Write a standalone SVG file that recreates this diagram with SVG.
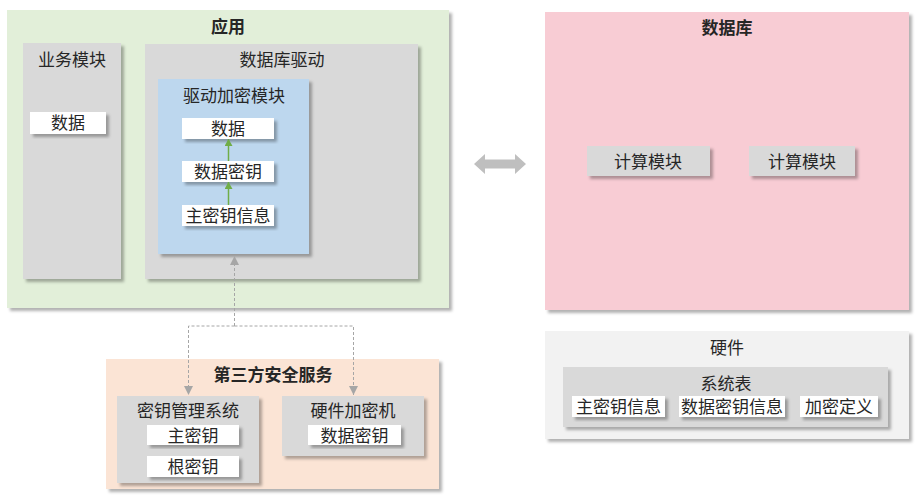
<svg xmlns="http://www.w3.org/2000/svg" width="924" height="504" viewBox="0 0 924 504">
<defs>
<filter id="sh" x="-10%" y="-10%" width="125%" height="130%">
<feDropShadow dx="3" dy="3" stdDeviation="1.6" flood-color="#000" flood-opacity="0.3"/>
</filter>
<marker id="ga" markerWidth="8" markerHeight="8" refX="7" refY="4" orient="auto" markerUnits="userSpaceOnUse">
<path d="M0,0 L7,4 L0,8 Z" fill="#70ad47"/>
</marker>
<marker id="da" markerWidth="10" markerHeight="10" refX="9" refY="5" orient="auto" markerUnits="userSpaceOnUse">
<path d="M0,0.5 L9,5 L0,9.5 Z" fill="#a6a6a6"/>
</marker>
</defs>
<style>
text{font-family:"Noto Sans CJK SC","Noto Sans",sans-serif;font-size:17px;fill:#262626;text-anchor:middle}
.b{font-weight:bold}
.s{filter:url(#sh)}
.g{fill:#d9d9d9}
.w{fill:#ffffff}
</style>
<g id="app">
<rect class="s" x="7" y="10" width="442" height="298" fill="#e2efd9"/>
<text class="b" x="228" y="33">应用</text>
</g>
<g id="biz">
<rect class="s g" x="23" y="43" width="98" height="236"/>
<text x="72" y="66">业务模块</text>
<rect class="s w" x="30" y="112" width="76" height="22"/>
<text x="68" y="129">数据</text>
</g>
<g id="driver">
<rect class="s g" x="145" y="44" width="273" height="235"/>
<text x="282" y="66">数据库驱动</text>
</g>
<g id="enc">
<rect class="s" x="158" y="79" width="151" height="175" fill="#bdd7ee"/>
<text x="234" y="102">驱动加密模块</text>
<rect class="s w" x="182" y="118" width="92" height="21"/>
<text x="228" y="135">数据</text>
<rect class="s w" x="182" y="161" width="92" height="21"/>
<text x="228" y="178">数据密钥</text>
<rect class="s w" x="182" y="205" width="92" height="21"/>
<text x="228" y="222">主密钥信息</text>
</g>
<g id="db">
<rect class="s" x="545" y="12" width="364" height="298" fill="#f8ccd4"/>
<text class="b" x="727" y="34">数据库</text>
<rect class="s g" x="587" y="146" width="123" height="30"/>
<text x="648" y="168">计算模块</text>
<rect class="s g" x="749" y="146" width="106" height="30"/>
<text x="802" y="168">计算模块</text>
</g>
<g id="hw">
<rect class="s" x="545" y="331" width="364" height="108" fill="#f2f2f2"/>
<text x="727" y="354">硬件</text>
<rect class="s g" x="563" y="367" width="325" height="60"/>
<text x="726" y="390">系统表</text>
<rect class="s w" x="572" y="396" width="93" height="21"/>
<text x="618.5" y="413">主密钥信息</text>
<rect class="s w" x="679" y="396" width="106" height="21"/>
<text x="732" y="413">数据密钥信息</text>
<rect class="s w" x="800" y="396" width="78" height="21"/>
<text x="839" y="413">加密定义</text>
</g>
<g id="third">
<rect class="s" x="106" y="359" width="333" height="130" fill="#fbe4d5"/>
<text class="b" x="273" y="381">第三方安全服务</text>
</g>
<g id="kms">
<rect class="s g" x="117" y="396" width="142" height="87"/>
<text x="188" y="417">密钥管理系统</text>
<rect class="s w" x="147" y="425" width="92" height="20"/>
<text x="193" y="442">主密钥</text>
<rect class="s w" x="147" y="456" width="92" height="21"/>
<text x="193" y="473">根密钥</text>
</g>
<g id="hsm">
<rect class="s g" x="282" y="396" width="142" height="60"/>
<text x="353" y="417">硬件加密机</text>
<rect class="s w" x="308" y="425" width="93" height="20"/>
<text x="354.5" y="442">数据密钥</text>
</g>
<g id="connectors">
<line x1="228.5" y1="161" x2="228.5" y2="139" stroke="#70ad47" stroke-width="1.5" marker-end="url(#ga)"/>
<line x1="228.5" y1="205" x2="228.5" y2="182" stroke="#70ad47" stroke-width="1.5" marker-end="url(#ga)"/>
<path d="M234.5,326 V256" fill="none" stroke="#a6a6a6" stroke-width="1" stroke-dasharray="3,2" marker-end="url(#da)"/>
<path d="M234.5,326 H188.5 V395" fill="none" stroke="#a6a6a6" stroke-width="1" stroke-dasharray="3,2" marker-end="url(#da)"/>
<path d="M234.5,326 H353.5 V395" fill="none" stroke="#a6a6a6" stroke-width="1" stroke-dasharray="3,2" marker-end="url(#da)"/>
<polygon points="474,164 485,154 485,159.5 515,159.5 515,154 526,164 515,174 515,168.5 485,168.5 485,174" fill="#bfbfbf"/>
</g>
</svg>
